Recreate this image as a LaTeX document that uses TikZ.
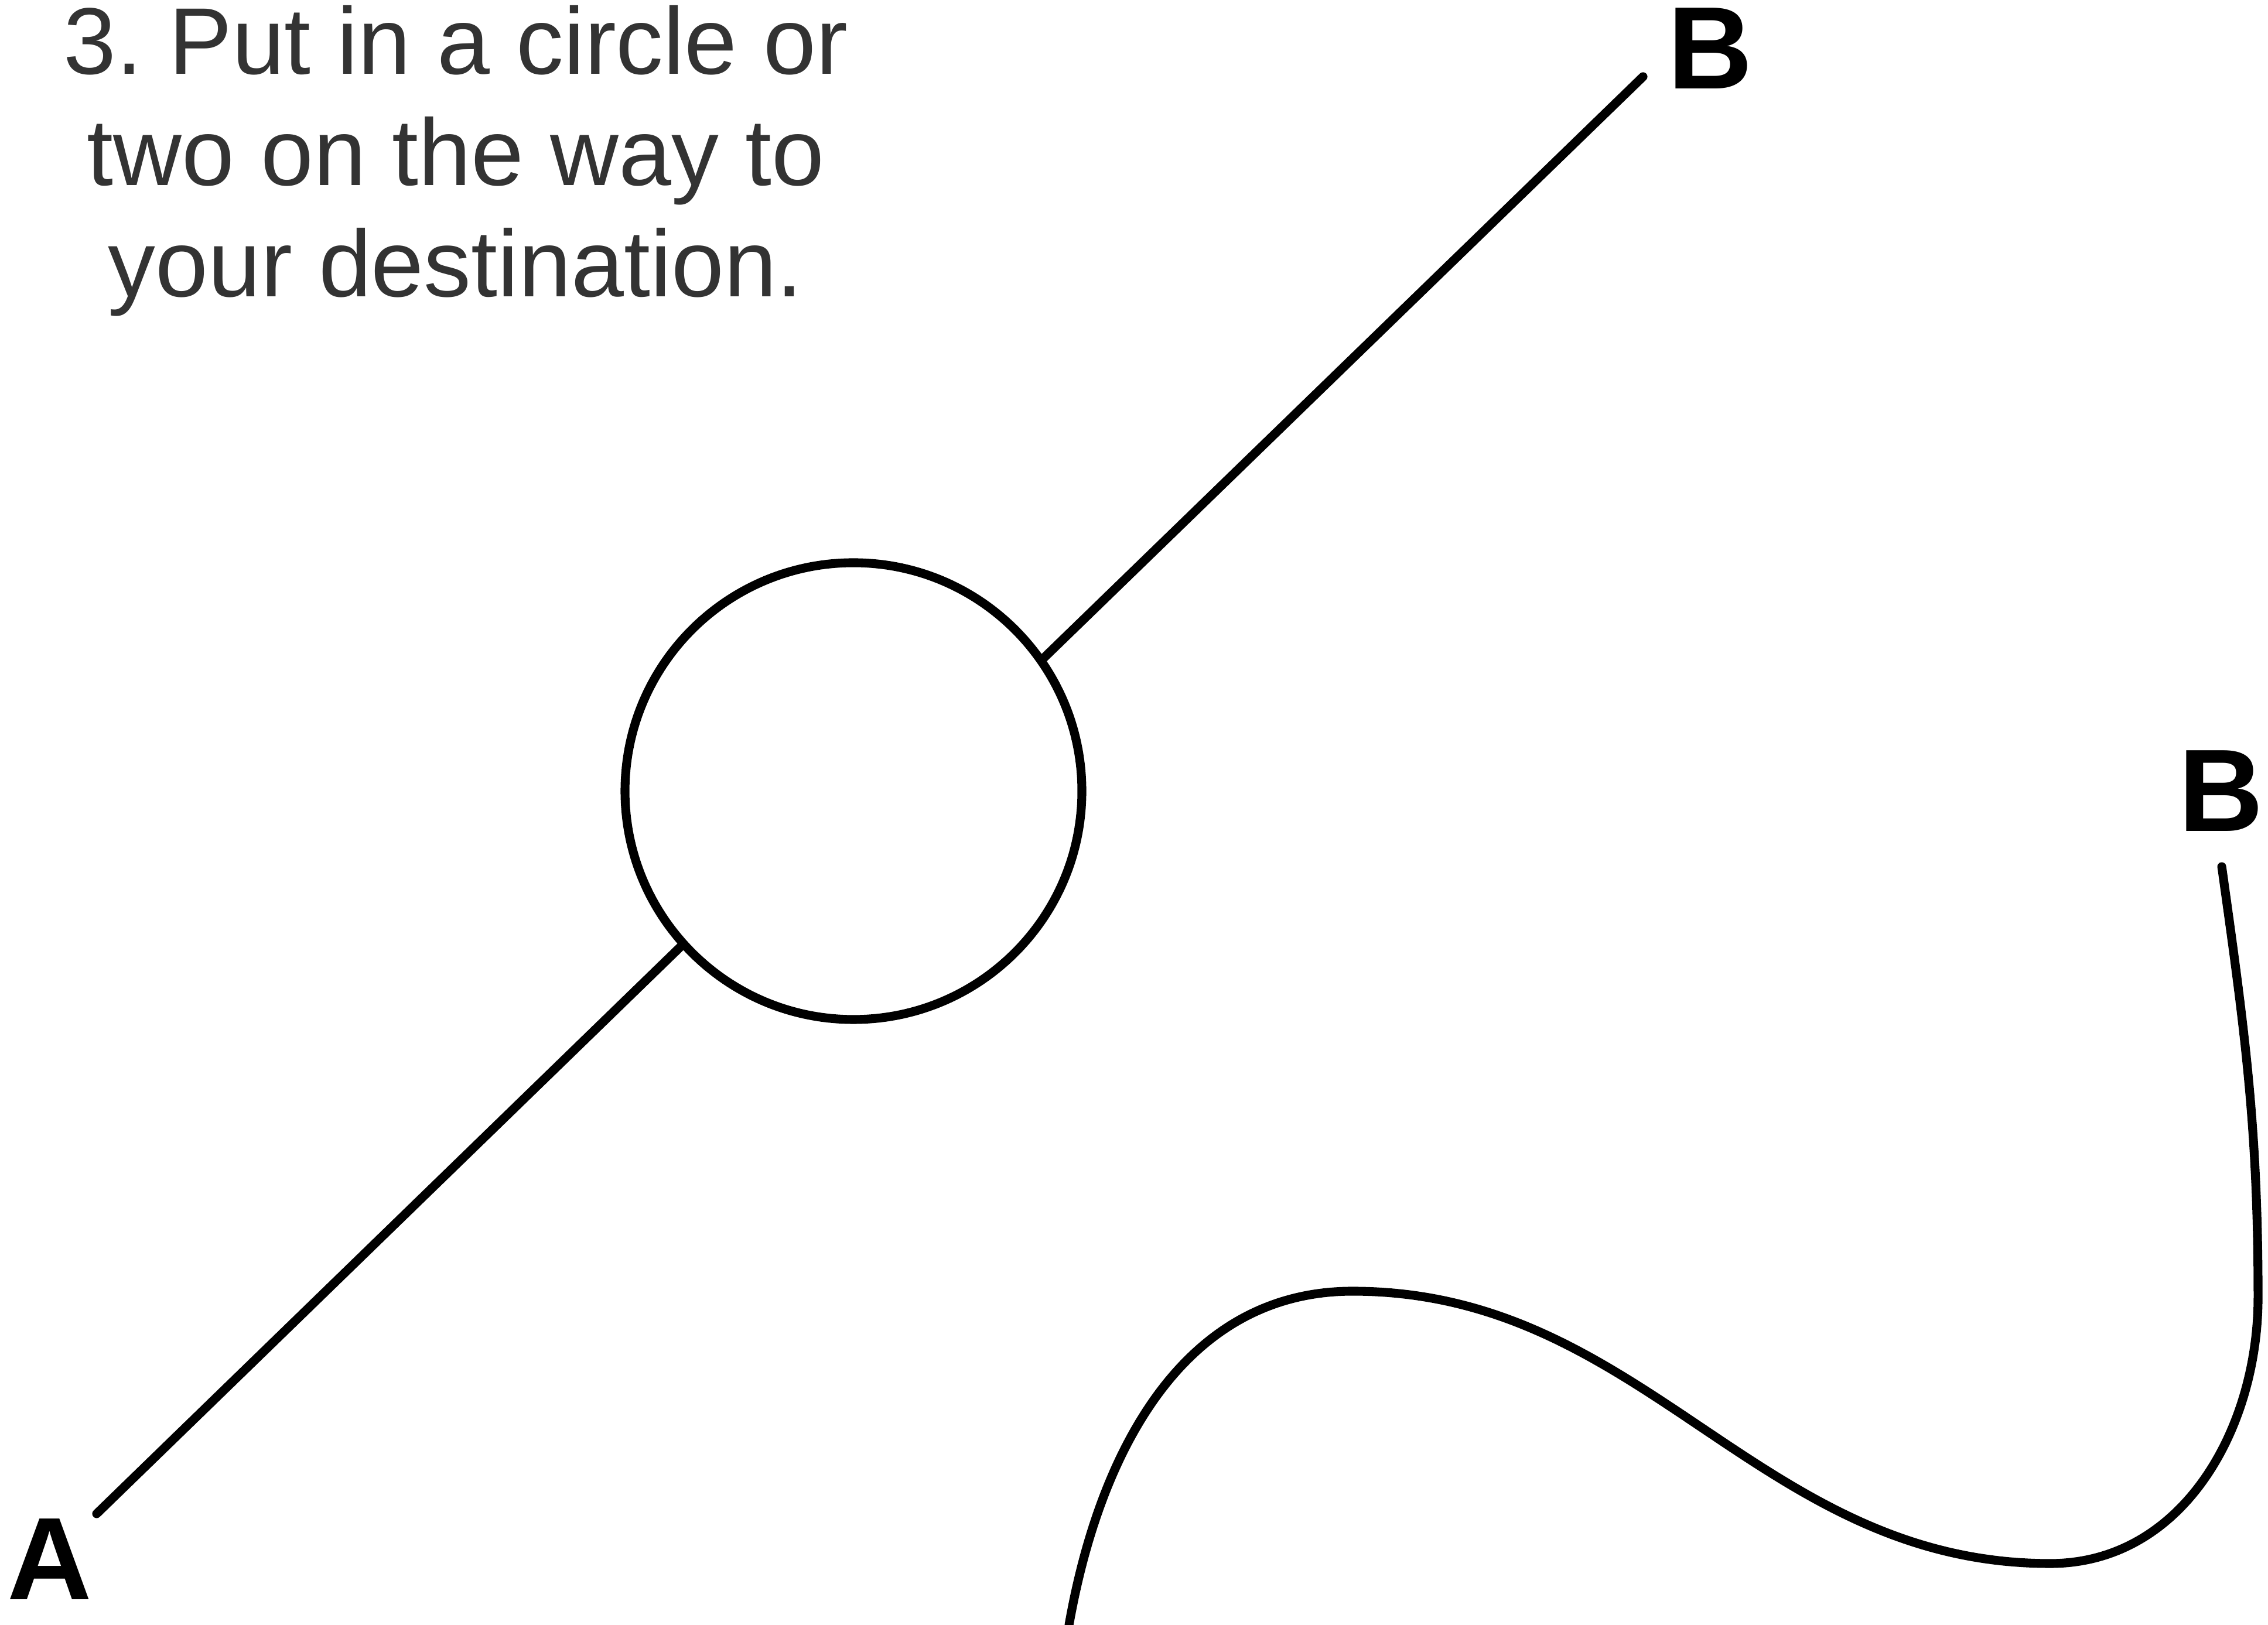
\documentclass[tikz,border=0pt]{standalone}
\usepackage{fontspec}
\setmainfont{Liberation Sans}
\usetikzlibrary{positioning}
\frenchspacing
\begin{document}
\begin{tikzpicture}[
    wire/.style={line width=4.3pt, line cap=round},
    pin/.style={font=\fontsize{57}{60}\selectfont\bfseries, inner sep=0pt},
    note/.style={font=\fontsize{46}{54}\selectfont, align=center, text=black!80, inner sep=0pt}]
    \useasboundingbox (0, 0) rectangle (38.72, 27.75);
    \node[note, anchor=north] (hint) at (7.78, 27.66) {3. Put in a circle or\\two on the way to\\your destination.};

    % straight route, one circle on the way
    \node[draw, circle, line width=4.3pt, minimum size=7.8cm] (stop) at (14.57, 14.24) {};
    \coordinate (start) at (1.65, 1.90);
    \coordinate (goal) at (28.05, 26.44);
    \node[pin] (a) at (0.85, 1.12) {A};
    \node[pin] (b1) at (29.20, 26.92) {B};
    \draw[wire] (start) -- (stop.222);
    \draw[wire] (stop.35) -- (goal);

    % wavy route
    \node[pin] (b2) at (37.92, 14.24) {B};
    \coordinate (w0) at (18.25, 0);
    \coordinate (w1) at (23.09, 5.70);
    \coordinate (w2) at (35.00, 1.05);
    \coordinate (w3) at (38.55, 5.60);
    \coordinate (w4) at (37.93, 12.95);
    \draw[wire] (w0) to[out=80, in=180] (w1) to[out=0, in=180] (w2)
        to[out=0, in=-90] (w3) to[out=90, in=-82] (w4);
\end{tikzpicture}
\end{document}
